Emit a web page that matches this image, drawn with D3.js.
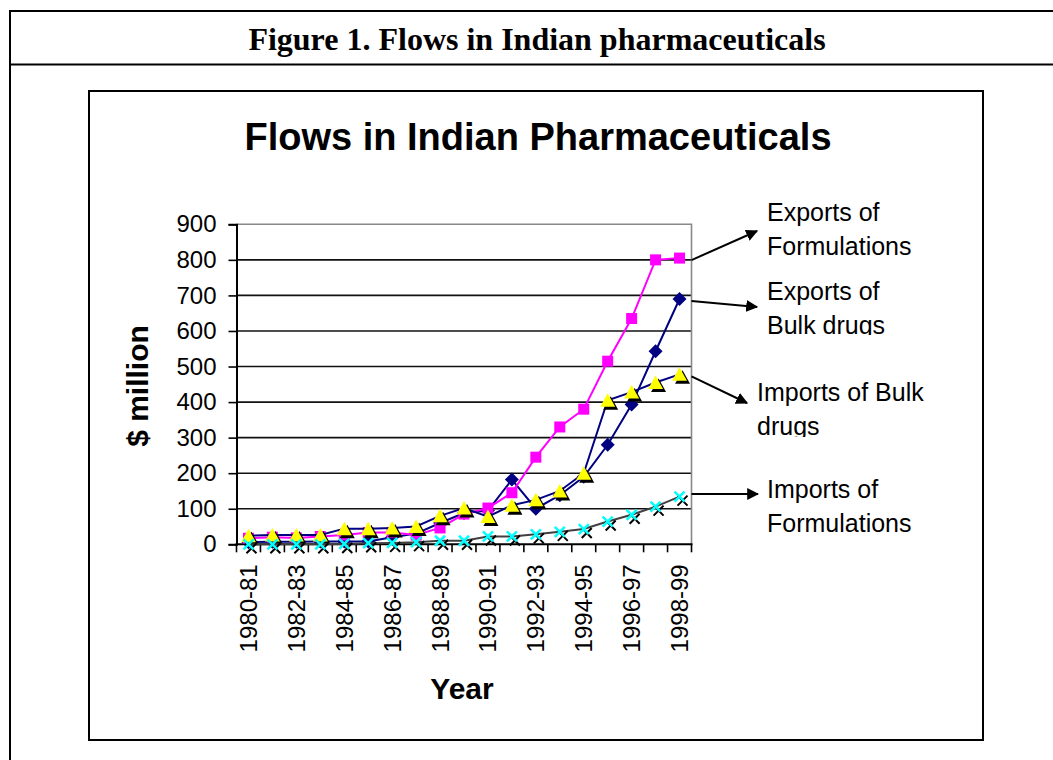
<!DOCTYPE html>
<html>
  <head>
    <meta charset="utf-8" />
    <title>Flows in Indian Pharmaceuticals</title>
    <script src="https://d3js.org/d3.v7.min.js"></script>
    <style>
        body{
            margin: 0;
            background: #fff;
        }
        text{
            font-family: Arial, "Liberation Sans", sans-serif;
        }
    </style>
  </head>
  <body>
    <svg id="vis"></svg>

    <script>
        // data ($ million)
        var years = ["1980-81","1981-82","1982-83","1983-84","1984-85","1985-86","1986-87",
                     "1987-88","1988-89","1989-90","1990-91","1991-92","1992-93","1993-94",
                     "1994-95","1995-96","1996-97","1997-98","1998-99"];
        var exportsBulk = [6,7,7,8,8,8,20,30,60,88,95,182,100,138,190,280,393,543,690];
        var exportsForm = [17,20,18,22,26,33,33,26,46,85,102,145,245,330,380,515,635,800,805];
        var importsBulk = [24,26,26,26,44,44,46,50,80,102,78,110,125,150,200,405,428,455,478];
        var importsForm = [0,0,0,0,1,3,4,6,10,10,22,22,28,35,43,64,83,106,134];
        var yTicks = [0,100,200,300,400,500,600,700,800,900];

        var width = 1053;
        var height = 760;

        var svg = d3.select("#vis").attr("width", width).attr("height", height);

        // figure frame
        svg.append("line").attr("x1", 10).attr("x2", 10).attr("y1", 10).attr("y2", 770)
            .attr("stroke", "#000").attr("stroke-width", 2);
        svg.append("line").attr("x1", 9).attr("x2", 1060).attr("y1", 11).attr("y2", 11)
            .attr("stroke", "#000").attr("stroke-width", 2);
        svg.append("line").attr("x1", 9).attr("x2", 1060).attr("y1", 64.5).attr("y2", 64.5)
            .attr("stroke", "#000").attr("stroke-width", 2);
        svg.append("text").attr("x", 537).attr("y", 50).attr("text-anchor", "middle")
            .style("font-family", "'Liberation Serif', 'Times New Roman', serif")
            .style("font-weight", "bold").style("font-size", "32px")
            .text("Figure 1. Flows in Indian pharmaceuticals");

        // chart box
        svg.append("rect").attr("x", 89).attr("y", 91).attr("width", 894).attr("height", 649)
            .attr("fill", "#fff").attr("stroke", "#000").attr("stroke-width", 2);

        svg.append("text").attr("x", 538).attr("y", 150).attr("text-anchor", "middle")
            .style("font-weight", "bold").style("font-size", "38px")
            .text("Flows in Indian Pharmaceuticals");

        var pLeft = 236.5, pRight = 691.5, pTop = 224.3, pBottom = 544.3;

        var x = d3.scaleBand().domain(years).range([pLeft, pRight]);
        var y = d3.scaleLinear().domain([0, 900]).range([pBottom, pTop]);

        var cx = function(d, i) { return x(years[i]) + x.bandwidth() / 2; };

        // gridlines
        svg.append("g").selectAll("line").data(yTicks.slice(1, -1)).enter().append("line")
            .attr("x1", pLeft).attr("x2", pRight)
            .attr("y1", function(d) { return y(d); }).attr("y2", function(d) { return y(d); })
            .attr("stroke", "#111").attr("stroke-width", 1.6);

        // plot border (grey top and right)
        svg.append("path")
            .attr("d", "M" + pLeft + "," + y(900) + "H" + pRight + "V" + pBottom)
            .attr("fill", "none").attr("stroke", "#888").attr("stroke-width", 1.6);

        // y axis
        var yAxis = d3.axisLeft(y).tickValues(yTicks).tickSize(8).tickPadding(12);
        var gy = svg.append("g").attr("transform", "translate(" + pLeft + ",0)").call(yAxis);
        gy.select(".domain").attr("stroke", "#000").attr("stroke-width", 2);
        gy.selectAll(".tick line").attr("stroke", "#000").attr("stroke-width", 1.6);
        gy.selectAll(".tick text").style("font-size", "24px").attr("fill", "#000")
            .style("font-family", "Arial, 'Liberation Sans', sans-serif");

        // x axis: ticks at category boundaries
        var gx = svg.append("g");
        gx.append("line").attr("x1", pLeft - 1).attr("x2", pRight + 1)
            .attr("y1", pBottom).attr("y2", pBottom).attr("stroke", "#000").attr("stroke-width", 2);
        gx.selectAll(".xt").data(years.concat(["end"])).enter().append("line")
            .attr("class", "xt")
            .attr("x1", function(d, i) { return pLeft + i * x.step(); })
            .attr("x2", function(d, i) { return pLeft + i * x.step(); })
            .attr("y1", pBottom).attr("y2", pBottom + 8)
            .attr("stroke", "#000").attr("stroke-width", 1.6);
        gx.selectAll(".xl").data(years.filter(function(d, i) { return i % 2 === 0; }))
            .enter().append("text")
            .attr("class", "xl")
            .attr("transform", function(d) {
                return "translate(" + (x(d) + x.bandwidth() / 2 + 8.5) + "," + (pBottom + 20) + ") rotate(-90)";
            })
            .attr("text-anchor", "end")
            .style("font-size", "24px")
            .text(function(d) { return d; });

        // axis titles
        svg.append("text").attr("transform", "translate(148,386) rotate(-90)")
            .attr("text-anchor", "middle").style("font-weight", "bold").style("font-size", "30px")
            .text("$ million");
        svg.append("text").attr("x", 462).attr("y", 699).attr("text-anchor", "middle")
            .style("font-weight", "bold").style("font-size", "30px").text("Year");

        var line = d3.line().x(cx).y(function(d) { return y(d); });

        // series 1: exports of bulk drugs (navy diamonds)
        svg.append("path").datum(exportsBulk).attr("d", line)
            .attr("fill", "none").attr("stroke", "#000080").attr("stroke-width", 2);
        svg.append("g").selectAll("path").data(exportsBulk).enter().append("path")
            .attr("d", "M0,-7L7,0L0,7L-7,0Z")
            .attr("transform", function(d, i) { return "translate(" + cx(d, i) + "," + y(d) + ")"; })
            .attr("fill", "#000080");

        // series 2: exports of formulations (magenta squares)
        svg.append("path").datum(exportsForm).attr("d", line)
            .attr("fill", "none").attr("stroke", "#FF00FF").attr("stroke-width", 2);
        svg.append("g").selectAll("rect").data(exportsForm).enter().append("rect")
            .attr("x", function(d, i) { return cx(d, i) - 5.5; })
            .attr("y", function(d) { return y(d) - 5.5; })
            .attr("width", 11).attr("height", 11)
            .attr("fill", "#FF00FF");

        // series 3: imports of bulk drugs (yellow triangles, navy line)
        var tri = "M0,-7L7.5,6.5L-7.5,6.5Z";
        svg.append("path").datum(importsBulk).attr("d", line)
            .attr("fill", "none").attr("stroke", "#000080").attr("stroke-width", 2);
        var gt = svg.append("g");
        gt.selectAll(".sh").data(importsBulk).enter().append("path").attr("class", "sh")
            .attr("d", tri)
            .attr("transform", function(d, i) { return "translate(" + (cx(d, i) + 3) + "," + (y(d) + 3) + ")"; })
            .attr("fill", "#000");
        gt.selectAll(".mk").data(importsBulk).enter().append("path").attr("class", "mk")
            .attr("d", tri)
            .attr("transform", function(d, i) { return "translate(" + cx(d, i) + "," + y(d) + ")"; })
            .attr("fill", "#FFFF00");

        // series 4: imports of formulations (cyan crosses)
        var cross = "M-5,-5L5,5M5,-5L-5,5";
        svg.append("path").datum(importsForm).attr("d", line)
            .attr("fill", "none").attr("stroke", "#404040").attr("stroke-width", 2);
        var gc = svg.append("g");
        gc.selectAll(".sh").data(importsForm).enter().append("path").attr("class", "sh")
            .attr("d", cross)
            .attr("transform", function(d, i) { return "translate(" + (cx(d, i) + 3) + "," + (y(d) + 4) + ")"; })
            .attr("stroke", "#000").attr("stroke-width", 2);
        gc.selectAll(".mk").data(importsForm).enter().append("path").attr("class", "mk")
            .attr("d", cross)
            .attr("transform", function(d, i) { return "translate(" + cx(d, i) + "," + y(d) + ")"; })
            .attr("stroke", "#00FFFF").attr("stroke-width", 2.5);

        // annotations with arrows
        var defs = svg.append("defs");
        defs.append("marker").attr("id", "arrow").attr("viewBox", "0 0 10 10")
            .attr("refX", 9).attr("refY", 5).attr("markerWidth", 12).attr("markerHeight", 12)
            .attr("markerUnits", "userSpaceOnUse").attr("orient", "auto")
            .append("path").attr("d", "M0,0L10,5L0,10Z").attr("fill", "#000");

        var notes = [
            {lines: ["Exports of", "Formulations"], last: exportsForm[18], tx: 757, ty: 231, lx: 767, ly: 221, clip: 800},
            {lines: ["Exports of", "Bulk drugs"], last: exportsBulk[18], tx: 757, ty: 307, lx: 767, ly: 300, clip: 335},
            {lines: ["Imports of Bulk", "drugs"], last: importsBulk[18], tx: 747, ty: 403, lx: 757, ly: 401, clip: 437},
            {lines: ["Imports of", "Formulations"], last: importsForm[18], tx: 758, ty: 494, lx: 767, ly: 498, clip: 800}
        ];

        notes.forEach(function(n, k) {
            svg.append("line").attr("x1", pRight).attr("y1", k === 3 ? n.ty : y(n.last) + 2)
                .attr("x2", n.tx).attr("y2", n.ty)
                .attr("stroke", "#000").attr("stroke-width", 2).attr("marker-end", "url(#arrow)");
            defs.append("clipPath").attr("id", "clip" + k).append("rect")
                .attr("x", n.lx - 5).attr("y", n.ly - 30).attr("width", 200).attr("height", n.clip - n.ly + 30);
            var t = svg.append("text").attr("clip-path", "url(#clip" + k + ")")
                .style("font-size", "25px");
            n.lines.forEach(function(s, j) {
                t.append("tspan").attr("x", n.lx).attr("y", n.ly + j * 34).text(s);
            });
        });
    </script>
  </body>
</html>
